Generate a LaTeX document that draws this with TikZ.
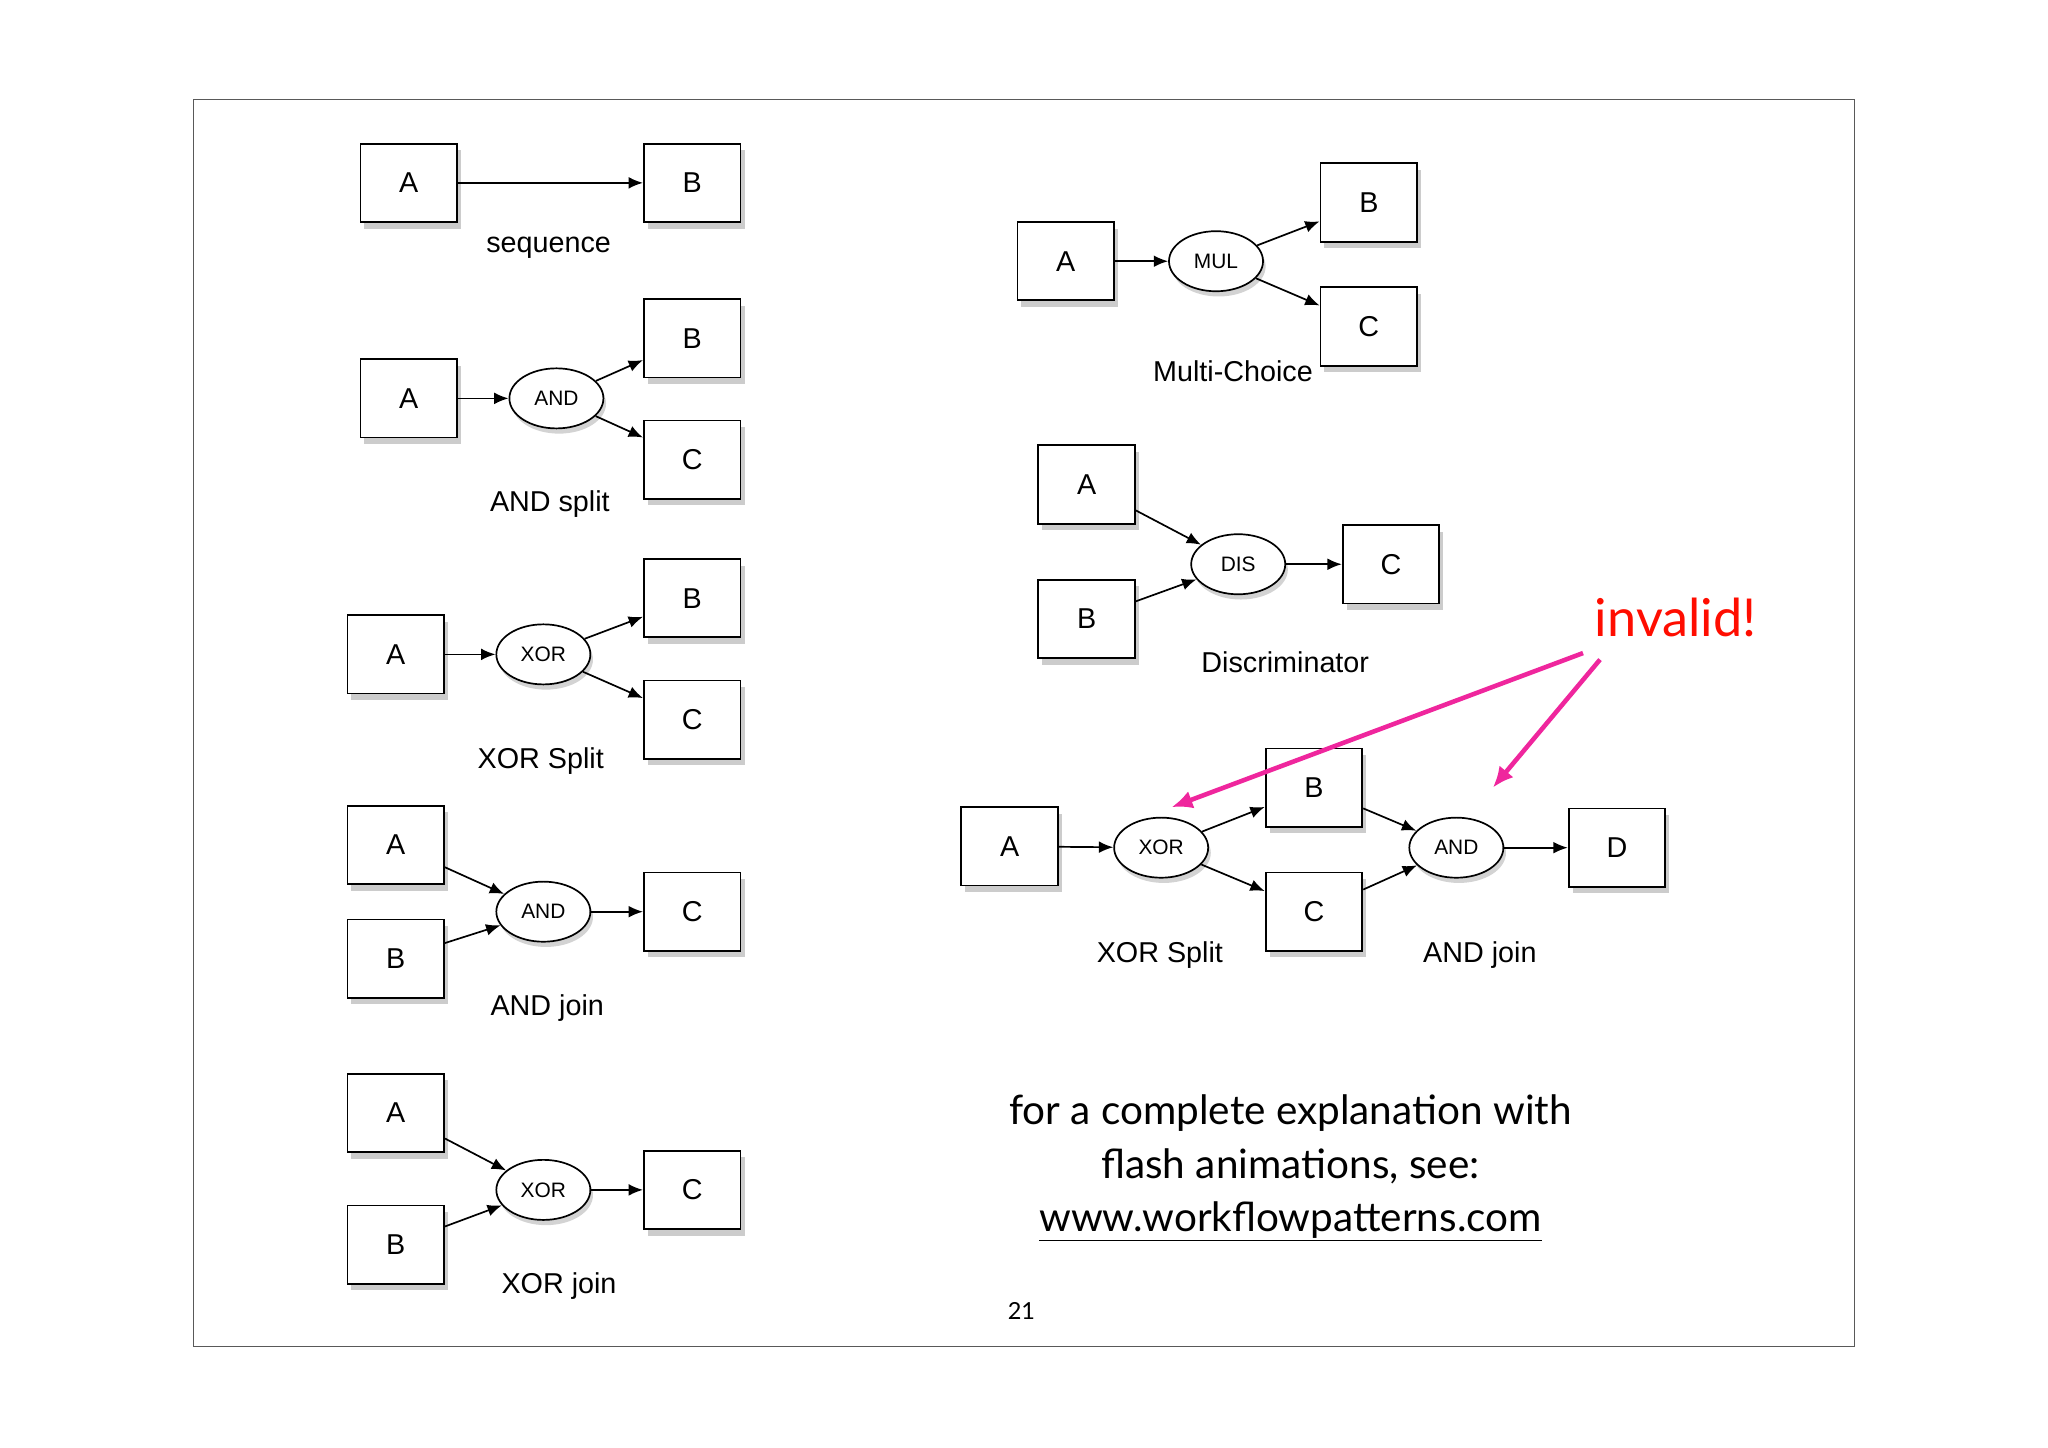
\documentclass[tikz,border=0pt]{standalone}
\usepackage{fontspec}
\setmainfont{Liberation Sans}
\newfontfamily\gill{Lato}
\usetikzlibrary{shadows, calc, shapes.geometric, arrows.meta}
\tikzset{
box/.style={draw, line width=1.4pt, fill=white, minimum width=74pt, minimum height=60pt, font=\fontsize{22}{24}\selectfont,
	drop shadow={shadow xshift=3pt, shadow yshift=-5pt, opacity=0.4}},
gate/.style={draw, line width=1.3pt, ellipse, fill=white, minimum width=72pt, minimum height=46pt, inner sep=0pt,
	font=\fontsize{16}{18}\selectfont, drop shadow={shadow xshift=2pt, shadow yshift=-4pt, opacity=0.35}},
caption/.style={font=\fontsize{22}{24}\selectfont},
link/.style={line width=1.3pt, -{Latex[length=11pt, width=9pt]}},
note/.style={font=\gill\fontsize{31}{36}\selectfont},
}
\begin{document}
\begin{tikzpicture}[x=1pt, y=-1pt]
\useasboundingbox (0,0) rectangle (1568,1108);
\draw[gray!70!black] (148,76) rectangle (1420,1031);
% sequence
\node[box] (sa) at (313,140) {A};
\node[box] (sb) at (530,140) {B};
\node[caption] at (420,190) {sequence};
\draw[link] (sa) -- (sb);
% AND split
\node[box] (asa) at (313,305) {A};
\node[gate] (asg) at (426,305) {AND};
\node[box] (asb) at (530,259) {B};
\node[box] (asc) at (530,352) {C};
\node[caption] at (421,386) {AND split};
\draw[link] (asa) -- (asg);
\draw[link] (asg) -- (asb);
\draw[link] (asg) -- (asc);
% XOR split
\node[box] (xsa) at (303,501) {A};
\node[gate] (xsg) at (416,501) {XOR};
\node[box] (xsb) at (530,458) {B};
\node[box] (xsc) at (530,551) {C};
\node[caption] at (414,583) {XOR Split};
\draw[link] (xsa) -- (xsg);
\draw[link] (xsg) -- (xsb);
\draw[link] (xsg) -- (xsc);
% AND join
\node[box] (aja) at (303,647) {A};
\node[box] (ajb) at (303,734) {B};
\node[gate] (ajg) at (416,698) {AND};
\node[box] (ajc) at (530,698) {C};
\node[caption] at (419,772) {AND join};
\draw[link] (aja) -- (ajg);
\draw[link] (ajb) -- (ajg);
\draw[link] (ajg) -- (ajc);
% XOR join
\node[box] (xja) at (303,852) {A};
\node[box] (xjb) at (303,953) {B};
\node[gate] (xjg) at (416,911) {XOR};
\node[box] (xjc) at (530,911) {C};
\node[caption] at (428,985) {XOR join};
\draw[link] (xja) -- (xjg);
\draw[link] (xjb) -- (xjg);
\draw[link] (xjg) -- (xjc);
% Multi-Choice
\node[box] (mca) at (816,200) {A};
\node[gate] (mcg) at (931,200) {MUL};
\node[box] (mcb) at (1048,155) {B};
\node[box] (mcc) at (1048,250) {C};
\node[caption] at (944,284) {Multi-Choice};
\draw[link] (mca) -- (mcg);
\draw[link] (mcg) -- (mcb);
\draw[link] (mcg) -- (mcc);
% Discriminator
\node[box] (dia) at (832,371) {A};
\node[box] (dib) at (832,474) {B};
\node[gate] (dig) at (948,432) {DIS};
\node[box] (dic) at (1065,432) {C};
\node[caption] at (984,507) {Discriminator};
\draw[link] (dia) -- (dig);
\draw[link] (dib) -- (dig);
\draw[link] (dig) -- (dic);
% combined
\node[box] (cba) at (773,648) {A};
\node[gate] (cbx) at (889,649) {XOR};
\node[box] (cbb) at (1006,603) {B};
\node[box] (cbc) at (1006,698) {C};
\node[gate] (cbn) at (1115,649) {AND};
\node[box] (cbd) at (1238,649) {D};
\node[caption] at (888,731) {XOR Split};
\node[caption] at (1133,731) {AND join};
\draw[link] (cba) -- (cbx);
\draw[link] (cbx) -- (cbb);
\draw[link] (cbx) -- (cbc);
\draw[link] (cbb) -- (cbn);
\draw[link] (cbc) -- (cbn);
\draw[link] (cbn) -- (cbd);
% invalid
\node[font=\gill\fontsize{40}{44}\selectfont, text=red!90!orange] (inv) at (1283,473) {invalid!};
\coordinate (i1) at (1212,500);
\coordinate (i2) at (1225,505);
\draw[magenta!85!white, line width=3.5pt, -{Latex[length=16pt, width=14pt]}] (i1) -- (897,618);
\draw[magenta!85!white, line width=3.5pt, -{Latex[length=16pt, width=14pt]}] (i2) -- (1143,603);
% note
\node[note] at (988,852) {for a complete explanation with};
\node[note] at (988,893) {flash animations, see:};
\node[note] at (988,935) {\underline{www.workflowpatterns.com}};
\node[font=\gill\fontsize{18}{20}\selectfont] at (782,1004) {21};
\end{tikzpicture}
\end{document}
